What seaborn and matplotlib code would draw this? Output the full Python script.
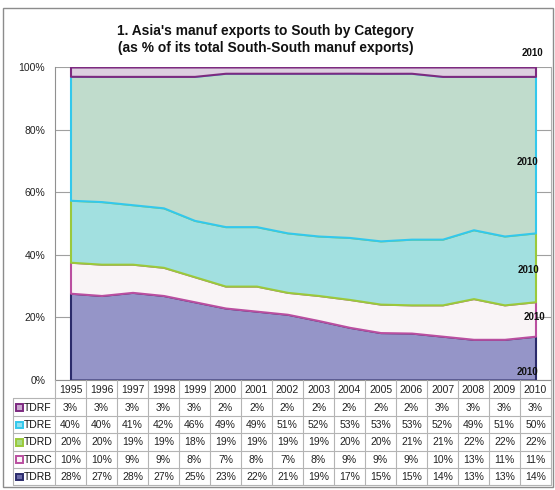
import numpy as np
import matplotlib
matplotlib.use("Agg")
import matplotlib.pyplot as plt
from matplotlib.patches import Rectangle
from matplotlib.lines import Line2D
import seaborn as sns

years = [1995, 1996, 1997, 1998, 1999, 2000, 2001, 2002, 2003, 2004,
         2005, 2006, 2007, 2008, 2009, 2010]
TDRB = [28, 27, 28, 27, 25, 23, 22, 21, 19, 17, 15, 15, 14, 13, 13, 14]
TDRC = [10, 10, 9, 9, 8, 7, 8, 7, 8, 9, 9, 9, 10, 13, 11, 11]
TDRD = [20, 20, 19, 19, 18, 19, 19, 19, 19, 20, 20, 21, 21, 22, 22, 22]
TDRE = [40, 40, 41, 42, 46, 49, 49, 51, 52, 53, 53, 53, 52, 49, 51, 50]
TDRF = [3, 3, 3, 3, 3, 2, 2, 2, 2, 2, 2, 2, 3, 3, 3, 3]
series_names = ["TDRB", "TDRC", "TDRD", "TDRE", "TDRF"]
yticks = [0, 20, 40, 60, 80, 100]
title = "1. Asia's manuf exports to South by Category\n(as % of its total South-South manuf exports)"

fills = ["#9595C8", "#F9F4F6", "#A2E0E0", "#C0DCCC", "#DDCFE0"]
edges = ["#2B2B6B", "#BA4FA0", "#9BC93B", "#33C8EC", "#7D2A80"]
key_fill = ["#6A6AA8", "#F9F4F6", "#A8DC88", "#8FE0F0", "#C9A8CF"]

sns.set_style("white")
plt.rcParams['font.family'] = ['Liberation Sans', 'DejaVu Sans']

W, H = 555, 490
fig = plt.figure(figsize=(W / 100, H / 100), dpi=100)

def fx(x):
    return x / W

def fy(y):
    return 1 - y / H

L, R, T, B = 55, 551, 67, 380
ax = fig.add_axes([fx(L), fy(B), fx(R) - fx(L), fy(T) - fy(B)])

data = np.array([TDRB, TDRC, TDRD, TDRE, TDRF], dtype=float)
shares = data / data.sum(axis=0) * 100
x = np.arange(len(years))

ax.set_xlim(-0.5, len(years) - 0.5)
ax.set_ylim(0, 100)
ax.set_yticks(yticks)
ax.set_yticklabels([f"{v}%" for v in yticks], fontsize=7.5, color="#222222")
ax.set_xticks([])
for v in yticks:
    ax.axhline(v, color="#A0A0A0", lw=0.8, zorder=0)

polys = ax.stackplot(x, shares, colors=fills, edgecolor=None, zorder=2)
for p, ec in zip(polys, edges):
    p.set_edgecolor(ec)
    p.set_linewidth(1.5)

ax.tick_params(axis="y", direction="out", length=5, width=0.8, color="#909090", pad=2)
ax.spines["top"].set_visible(False)
for s in ["left", "bottom", "right"]:
    ax.spines[s].set_color("#909090")
    ax.spines[s].set_linewidth(0.8)
ax.spines["right"].set_color("#B0B0B0")

# "2010" data labels
label_pos = [(14.73, 2.6), (14.98, 20.1), (14.76, 35.1), (14.73, 69.6), (14.89, 104.5)]
for (lx, ly) in label_pos:
    ax.text(lx, ly, str(years[-1]), fontsize=7, fontweight="bold", ha="center",
            va="center", clip_on=False, zorder=5, color="#111111")

# title
fig.text(fx(265), fy(31), title.split("\n")[0], ha="center", va="center",
         fontsize=9.9, fontweight="bold", color="#111111")
fig.text(fx(266), fy(48), title.split("\n")[1], ha="center", va="center",
         fontsize=9.9, fontweight="bold", color="#111111")

# data table below the axis
line_c = "#B4B4B4"
colw = (R - L) / len(years)
hdr_top, row0, rowh = 380, 398.3, 17.4
nrows = 5
tbl_bottom = row0 + nrows * rowh
tbl_left = 12.5

def hline(x0, x1, y, c=line_c):
    fig.add_artist(Line2D([fx(x0), fx(x1)], [fy(y), fy(y)], color=c, lw=0.8))

def vline(x, y0, y1, c=line_c):
    fig.add_artist(Line2D([fx(x), fx(x)], [fy(y0), fy(y1)], color=c, lw=0.8))

for i in range(len(years) + 1):
    vline(L + i * colw, hdr_top, tbl_bottom)
vline(tbl_left, row0, tbl_bottom)
for r in range(nrows + 1):
    hline(tbl_left, R, row0 + r * rowh)

for i, yr in enumerate(years):
    fig.text(fx(L + (i + 0.5) * colw), fy((hdr_top + row0) / 2 + 0.5), str(yr),
             ha="center", va="center", fontsize=7.5, color="#222222")

table_order = [4, 3, 2, 1, 0]  # TDRF, TDRE, TDRD, TDRC, TDRB
for r, si in enumerate(table_order):
    cy = row0 + (r + 0.5) * rowh + 0.5
    fig.add_artist(Rectangle((fx(16), fy(cy + 3.3)), fx(6.6), 6.6 / H,
                             facecolor=key_fill[si], edgecolor=edges[si], lw=1.4))
    fig.text(fx(24), fy(cy), series_names[si], ha="left", va="center",
             fontsize=7.5, color="#111111")
    for i in range(len(years)):
        fig.text(fx(L + (i + 0.5) * colw), fy(cy), f"{int(data[si, i])}%",
                 ha="center", va="center", fontsize=7.5, color="#222222")

# outer chart frame
fig.add_artist(Rectangle((fx(3), fy(487)), fx(550), 479 / H, fill=False,
                         edgecolor="#8C8C8C", lw=1.0))

fig.savefig("out.png", dpi=100)
